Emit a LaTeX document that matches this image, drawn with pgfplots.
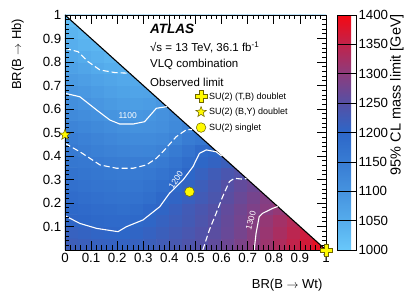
\documentclass[border=0pt]{standalone}
\usepackage{pgfplots}
\pgfplotsset{compat=1.18}
\usepackage{fontspec}
\setmainfont{Liberation Sans}
\pgfdeclareplotmark{fstar}{%
 \pgfpathmoveto{\pgfpointpolar{90}{\pgfplotmarksize}}%
 \pgfpathlineto{\pgfpointpolar{126}{0.42\pgfplotmarksize}}%
 \pgfpathlineto{\pgfpointpolar{162}{\pgfplotmarksize}}%
 \pgfpathlineto{\pgfpointpolar{198}{0.42\pgfplotmarksize}}%
 \pgfpathlineto{\pgfpointpolar{234}{\pgfplotmarksize}}%
 \pgfpathlineto{\pgfpointpolar{270}{0.42\pgfplotmarksize}}%
 \pgfpathlineto{\pgfpointpolar{306}{\pgfplotmarksize}}%
 \pgfpathlineto{\pgfpointpolar{342}{0.42\pgfplotmarksize}}%
 \pgfpathlineto{\pgfpointpolar{18}{\pgfplotmarksize}}%
 \pgfpathlineto{\pgfpointpolar{54}{0.42\pgfplotmarksize}}%
 \pgfpathclose\pgfusepathqfillstroke}
\pgfdeclareplotmark{fcross}{%
 \pgfpathmoveto{\pgfpoint{0.3\pgfplotmarksize}{\pgfplotmarksize}}%
 \pgfpathlineto{\pgfpoint{0.3\pgfplotmarksize}{0.3\pgfplotmarksize}}%
 \pgfpathlineto{\pgfpoint{\pgfplotmarksize}{0.3\pgfplotmarksize}}%
 \pgfpathlineto{\pgfpoint{\pgfplotmarksize}{-0.3\pgfplotmarksize}}%
 \pgfpathlineto{\pgfpoint{0.3\pgfplotmarksize}{-0.3\pgfplotmarksize}}%
 \pgfpathlineto{\pgfpoint{0.3\pgfplotmarksize}{-\pgfplotmarksize}}%
 \pgfpathlineto{\pgfpoint{-0.3\pgfplotmarksize}{-\pgfplotmarksize}}%
 \pgfpathlineto{\pgfpoint{-0.3\pgfplotmarksize}{-0.3\pgfplotmarksize}}%
 \pgfpathlineto{\pgfpoint{-\pgfplotmarksize}{-0.3\pgfplotmarksize}}%
 \pgfpathlineto{\pgfpoint{-\pgfplotmarksize}{0.3\pgfplotmarksize}}%
 \pgfpathlineto{\pgfpoint{-0.3\pgfplotmarksize}{0.3\pgfplotmarksize}}%
 \pgfpathlineto{\pgfpoint{-0.3\pgfplotmarksize}{\pgfplotmarksize}}%
 \pgfpathclose\pgfusepathqfillstroke}
\pgfplotstableread{
x y c
0.025 0.025 1220
0.075 0.025 1217
0.125 0.025 1213
0.175 0.025 1210
0.225 0.025 1209
0.275 0.025 1212
0.325 0.025 1218
0.375 0.025 1225
0.425 0.025 1233
0.475 0.025 1241
0.525 0.025 1249
0.575 0.025 1260
0.625 0.025 1272
0.675 0.025 1286
0.725 0.025 1299
0.775 0.025 1315
0.825 0.025 1332
0.875 0.025 1350
0.925 0.025 1367
0.975 0.025 1385
0.025 0.075 1212
0.075 0.075 1209
0.125 0.075 1205
0.175 0.075 1202
0.225 0.075 1200
0.275 0.075 1204
0.325 0.075 1210
0.375 0.075 1218
0.425 0.075 1227
0.475 0.075 1235
0.525 0.075 1245
0.575 0.075 1255
0.625 0.075 1267
0.675 0.075 1280
0.725 0.075 1296
0.775 0.075 1312
0.825 0.075 1328
0.875 0.075 1345
0.925 0.075 1362
0.975 0.075 1378
0.025 0.125 1203
0.075 0.125 1199
0.125 0.125 1196
0.175 0.125 1193
0.225 0.125 1192
0.275 0.125 1196
0.325 0.125 1203
0.375 0.125 1211
0.425 0.125 1220
0.475 0.125 1228
0.525 0.125 1240
0.575 0.125 1252
0.625 0.125 1265
0.675 0.125 1278
0.725 0.125 1294
0.775 0.125 1308
0.825 0.125 1322
0.875 0.125 1337
0.925 0.125 1350
0.975 0.125 1360
0.025 0.175 1195
0.075 0.175 1192
0.125 0.175 1188
0.175 0.175 1185
0.225 0.175 1182
0.275 0.175 1185
0.325 0.175 1197
0.375 0.175 1204
0.425 0.175 1215
0.475 0.175 1226
0.525 0.175 1236
0.575 0.175 1248
0.625 0.175 1262
0.675 0.175 1275
0.725 0.175 1287
0.775 0.175 1297
0.825 0.175 1308
0.875 0.175 1320
0.925 0.175 1330
0.975 0.175 1340
0.025 0.225 1187
0.075 0.225 1184
0.125 0.225 1179
0.175 0.225 1175
0.225 0.225 1172
0.275 0.225 1174
0.325 0.225 1182
0.375 0.225 1195
0.425 0.225 1205
0.475 0.225 1215
0.525 0.225 1226
0.575 0.225 1238
0.625 0.225 1255
0.675 0.225 1268
0.725 0.225 1280
0.775 0.225 1292
0.825 0.225 1300
0.875 0.225 1310
0.925 0.225 1320
0.975 0.225 1330
0.025 0.275 1179
0.075 0.275 1175
0.125 0.275 1170
0.175 0.275 1166
0.225 0.275 1163
0.275 0.275 1165
0.325 0.275 1171
0.375 0.275 1182
0.425 0.275 1195
0.475 0.275 1208
0.525 0.275 1220
0.575 0.275 1233
0.625 0.275 1250
0.675 0.275 1262
0.725 0.275 1272
0.775 0.275 1280
0.825 0.275 1290
0.875 0.275 1300
0.925 0.275 1310
0.975 0.275 1320
0.025 0.325 1171
0.075 0.325 1167
0.125 0.325 1162
0.175 0.325 1158
0.225 0.325 1154
0.275 0.325 1155
0.325 0.325 1159
0.375 0.325 1168
0.425 0.325 1182
0.475 0.325 1200
0.525 0.325 1212
0.575 0.325 1224
0.625 0.325 1236
0.675 0.325 1246
0.725 0.325 1255
0.775 0.325 1265
0.825 0.325 1275
0.875 0.325 1285
0.925 0.325 1295
0.975 0.325 1305
0.025 0.375 1163
0.075 0.375 1160
0.125 0.375 1156
0.175 0.375 1151
0.225 0.375 1148
0.275 0.375 1147
0.325 0.375 1148
0.375 0.375 1156
0.425 0.375 1170
0.475 0.375 1185
0.525 0.375 1201
0.575 0.375 1208
0.625 0.375 1218
0.675 0.375 1228
0.725 0.375 1238
0.775 0.375 1248
0.825 0.375 1258
0.875 0.375 1268
0.925 0.375 1278
0.975 0.375 1288
0.025 0.425 1154
0.075 0.425 1148
0.125 0.425 1142
0.175 0.425 1137
0.225 0.425 1132
0.275 0.425 1130
0.325 0.425 1131
0.375 0.425 1137
0.425 0.425 1153
0.475 0.425 1170
0.525 0.425 1190
0.575 0.425 1198
0.625 0.425 1205
0.675 0.425 1215
0.725 0.425 1225
0.775 0.425 1235
0.825 0.425 1245
0.875 0.425 1255
0.925 0.425 1265
0.975 0.425 1275
0.025 0.475 1145
0.075 0.475 1139
0.125 0.475 1132
0.175 0.475 1126
0.225 0.475 1120
0.275 0.475 1117
0.325 0.475 1117
0.375 0.475 1121
0.425 0.475 1132
0.475 0.475 1150
0.525 0.475 1160
0.575 0.475 1170
0.625 0.475 1180
0.675 0.475 1190
0.725 0.475 1200
0.775 0.475 1210
0.825 0.475 1220
0.875 0.475 1230
0.925 0.475 1240
0.975 0.475 1250
0.025 0.525 1133
0.075 0.525 1127
0.125 0.525 1120
0.175 0.525 1113
0.225 0.525 1107
0.275 0.525 1103
0.325 0.525 1104
0.375 0.525 1108
0.425 0.525 1120
0.475 0.525 1135
0.525 0.525 1145
0.575 0.525 1155
0.625 0.525 1165
0.675 0.525 1175
0.725 0.525 1185
0.775 0.525 1195
0.825 0.525 1205
0.875 0.525 1215
0.925 0.525 1225
0.975 0.525 1235
0.025 0.575 1120
0.075 0.575 1114
0.125 0.575 1106
0.175 0.575 1099
0.225 0.575 1094
0.275 0.575 1092
0.325 0.575 1096
0.375 0.575 1104
0.425 0.575 1115
0.475 0.575 1125
0.525 0.575 1135
0.575 0.575 1145
0.625 0.575 1155
0.675 0.575 1165
0.725 0.575 1175
0.775 0.575 1185
0.825 0.575 1195
0.875 0.575 1205
0.925 0.575 1215
0.975 0.575 1225
0.025 0.625 1109
0.075 0.625 1102
0.125 0.625 1094
0.175 0.625 1087
0.225 0.625 1081
0.275 0.625 1079
0.325 0.625 1082
0.375 0.625 1092
0.425 0.625 1100
0.475 0.625 1110
0.525 0.625 1120
0.575 0.625 1130
0.625 0.625 1140
0.675 0.625 1150
0.725 0.625 1160
0.775 0.625 1170
0.825 0.625 1180
0.875 0.625 1190
0.925 0.625 1200
0.975 0.625 1210
0.025 0.675 1097
0.075 0.675 1090
0.125 0.675 1082
0.175 0.675 1075
0.225 0.675 1069
0.275 0.675 1066
0.325 0.675 1068
0.375 0.675 1075
0.425 0.675 1085
0.475 0.675 1095
0.525 0.675 1105
0.575 0.675 1115
0.625 0.675 1125
0.675 0.675 1135
0.725 0.675 1145
0.775 0.675 1155
0.825 0.675 1165
0.875 0.675 1175
0.925 0.675 1185
0.975 0.675 1195
0.025 0.725 1085
0.075 0.725 1078
0.125 0.725 1070
0.175 0.725 1064
0.225 0.725 1058
0.275 0.725 1056
0.325 0.725 1060
0.375 0.725 1065
0.425 0.725 1070
0.475 0.725 1075
0.525 0.725 1080
0.575 0.725 1085
0.625 0.725 1090
0.675 0.725 1095
0.725 0.725 1100
0.775 0.725 1105
0.825 0.725 1110
0.875 0.725 1115
0.925 0.725 1120
0.975 0.725 1125
0.025 0.775 1072
0.075 0.775 1064
0.125 0.775 1055
0.175 0.775 1047
0.225 0.775 1044
0.275 0.775 1044
0.325 0.775 1044
0.375 0.775 1044
0.425 0.775 1044
0.475 0.775 1044
0.525 0.775 1044
0.575 0.775 1044
0.625 0.775 1044
0.675 0.775 1044
0.725 0.775 1044
0.775 0.775 1044
0.825 0.775 1044
0.875 0.775 1044
0.925 0.775 1044
0.975 0.775 1044
0.025 0.825 1059
0.075 0.825 1050
0.125 0.825 1042
0.175 0.825 1036
0.225 0.825 1036
0.275 0.825 1036
0.325 0.825 1036
0.375 0.825 1036
0.425 0.825 1036
0.475 0.825 1036
0.525 0.825 1036
0.575 0.825 1036
0.625 0.825 1036
0.675 0.825 1036
0.725 0.825 1036
0.775 0.825 1036
0.825 0.825 1036
0.875 0.825 1036
0.925 0.825 1036
0.975 0.825 1036
0.025 0.875 1046
0.075 0.875 1038
0.125 0.875 1032
0.175 0.875 1032
0.225 0.875 1032
0.275 0.875 1032
0.325 0.875 1032
0.375 0.875 1032
0.425 0.875 1032
0.475 0.875 1032
0.525 0.875 1032
0.575 0.875 1032
0.625 0.875 1032
0.675 0.875 1032
0.725 0.875 1032
0.775 0.875 1032
0.825 0.875 1032
0.875 0.875 1032
0.925 0.875 1032
0.975 0.875 1032
0.025 0.925 1035
0.075 0.925 1028
0.125 0.925 1028
0.175 0.925 1028
0.225 0.925 1028
0.275 0.925 1028
0.325 0.925 1028
0.375 0.925 1028
0.425 0.925 1028
0.475 0.925 1028
0.525 0.925 1028
0.575 0.925 1028
0.625 0.925 1028
0.675 0.925 1028
0.725 0.925 1028
0.775 0.925 1028
0.825 0.925 1028
0.875 0.925 1028
0.925 0.925 1028
0.975 0.925 1028
0.025 0.975 1022
0.075 0.975 1022
0.125 0.975 1022
0.175 0.975 1022
0.225 0.975 1022
0.275 0.975 1022
0.325 0.975 1022
0.375 0.975 1022
0.425 0.975 1022
0.475 0.975 1022
0.525 0.975 1022
0.575 0.975 1022
0.625 0.975 1022
0.675 0.975 1022
0.725 0.975 1022
0.775 0.975 1022
0.825 0.975 1022
0.875 0.975 1022
0.925 0.975 1022
0.975 0.975 1022
}\limitdata
\definecolor{mkyellow}{RGB}{255,250,0}
\definecolor{mkedge}{RGB}{110,100,0}
\begin{document}
\begin{tikzpicture}
\begin{axis}[
  at={(0,0)}, anchor=south west,
  scale only axis, width=261bp, height=235bp,
  xmin=0, xmax=1, ymin=0, ymax=1,
  axis on top,
  line width=0.7bp,
  colormap={atlas}{rgb255=(105,200,250) rgb255=(85,172,236) rgb255=(70,147,223) rgb255=(56,124,211) rgb255=(45,103,200) rgb255=(85,80,165) rgb255=(140,60,125) rgb255=(193,35,75) rgb255=(245,8,18)},
  point meta min=1000, point meta max=1400,
  /pgf/number format/assume math mode=true,
  /pgf/number format/1000 sep={},
  xtick={0,0.1,0.2,0.3,0.4,0.5,0.6,0.7,0.8,0.9,1},
  xticklabels={0,0.1,0.2,0.3,0.4,0.5,0.6,0.7,0.8,0.9,1},
  ytick={0,0.1,0.2,0.3,0.4,0.5,0.6,0.7,0.8,0.9,1},
  yticklabels={{},0.1,0.2,0.3,0.4,0.5,0.6,0.7,0.8,0.9,1},
  minor tick num=4,
  tick align=inside,
  major tick length=9bp, minor tick length=4.5bp,
  every tick/.style={black, line width=0.7bp},
  ticklabel style={font=\fontsize{13.3bp}{15bp}\selectfont},
  xlabel={BR(B $\rightarrow$ Wt)},
  ylabel={BR(B $\rightarrow$ Hb)},
  label style={font=\fontsize{13bp}{15bp}\selectfont},
  xlabel style={at={(ticklabel cs:1,9bp)}, anchor=north east},
  ylabel style={at={(ticklabel cs:1,12bp)}, anchor=south east},
  colorbar,
  colorbar style={
    at={(parent axis.north east)}, anchor=north west, xshift=2.5bp,
    scale only axis, width=19bp, height=235bp,
    ytick={1000,1050,1100,1150,1200,1250,1300,1350,1400},
    minor tick num=0,
    yticklabel pos=right,
    tick align=inside,
    major tick length=10bp,
    /pgf/number format/assume math mode=true,
    /pgf/number format/1000 sep={},
    yticklabel style={font=\fontsize{13.3bp}{15bp}\selectfont, xshift=-1bp},
  },
  legend style={at={(rel axis cs:0.497,0.68)}, anchor=north west, draw=none, fill=none,
    font=\fontsize{9bp}{10bp}\selectfont, row sep=3.5bp, inner sep=0pt},
  legend cell align=left,
]
\addplot[matrix plot*, mesh/cols=20, point meta=explicit, forget plot]
  table[x=x, y=y, meta=c] {\limitdata};
\addplot[fill=white, draw=none, forget plot] coordinates {(0,1) (1,0) (1,1)} -- cycle;
\addplot[black, line width=1.1bp, forget plot] coordinates {(0,1) (1,0)};
% contours
\addplot[white, line width=1.1bp, dash pattern=on 6bp off 3bp, forget plot] coordinates {
(0,0.858) (0.05,0.844) (0.089,0.801) (0.134,0.766) (0.191,0.755) (0.248,0.752)};
\addplot[white, line width=1.1bp, forget plot] coordinates {
(0,0.667) (0.057,0.652) (0.121,0.596) (0.172,0.553) (0.21,0.536) (0.261,0.536) (0.305,0.546) (0.35,0.603) (0.39,0.61)};
\addplot[white, line width=1.1bp, dash pattern=on 6bp off 3bp, forget plot] coordinates {
(0,0.454) (0.057,0.418) (0.134,0.362) (0.197,0.348) (0.261,0.348) (0.312,0.362) (0.35,0.39) (0.375,0.418) (0.426,0.482) (0.464,0.511) (0.487,0.513)};
\addplot[white, line width=1.1bp, forget plot] coordinates {
(0,0.146) (0.057,0.113) (0.121,0.092) (0.203,0.078) (0.235,0.099) (0.299,0.128) (0.363,0.184) (0.40,0.241) (0.452,0.298) (0.49,0.354) (0.515,0.411) (0.541,0.426) (0.579,0.418) (0.6,0.4)};
\addplot[white, line width=1.1bp, dash pattern=on 6bp off 3bp, forget plot] coordinates {
(0.528,0) (0.553,0.085) (0.579,0.156) (0.604,0.227) (0.63,0.291) (0.649,0.305) (0.687,0.301) (0.695,0.305)};
\addplot[white, line width=1.1bp, forget plot] coordinates {
(0.725,0) (0.732,0.071) (0.744,0.142) (0.757,0.156) (0.795,0.177) (0.815,0.185)};
\node[white, font=\fontsize{8.5bp}{9bp}\selectfont] at (axis cs:0.24,0.574) {1100};
\node[white, font=\fontsize{8.5bp}{9bp}\selectfont, rotate=57] at (axis cs:0.425,0.30) {1200};
\node[white, font=\fontsize{8.5bp}{9bp}\selectfont, rotate=75] at (axis cs:0.712,0.125) {1300};
% benchmark points
\addplot[only marks, mark=fcross, mark size=6bp, fill=mkyellow, draw=mkedge, line width=0.5bp] coordinates {(1,0)};
\addlegendentry{SU(2) (T,B) doublet}
\addplot[only marks, mark=fstar, mark size=5.5bp, fill=mkyellow, draw=mkedge, line width=0.5bp] coordinates {(0,0.49)};
\addlegendentry{SU(2) (B,Y) doublet}
\addplot[only marks, mark=*, mark size=4.8bp, fill=mkyellow, draw=mkedge, line width=0.5bp] coordinates {(0.477,0.248)};
\addlegendentry{SU(2) singlet}
\node[anchor=west, font=\fontsize{13.5bp}{14bp}\selectfont\bfseries\itshape, inner sep=0pt] at (rel axis cs:0.325,0.94) {ATLAS};
\node[anchor=west, font=\fontsize{11.5bp}{13bp}\selectfont, inner sep=0pt] at (rel axis cs:0.325,0.863) {√s = 13 TeV, 36.1 fb\textsuperscript{-1}};
\node[anchor=west, font=\fontsize{11.5bp}{13bp}\selectfont, inner sep=0pt] at (rel axis cs:0.325,0.788) {VLQ combination};
\node[anchor=west, font=\fontsize{11.5bp}{13bp}\selectfont, inner sep=0pt] at (rel axis cs:0.325,0.715) {Observed limit};
\end{axis}
\node[rotate=90, anchor=north east, inner sep=0pt, font=\fontsize{14.5bp}{16bp}\selectfont] at (325bp,236bp) {95\% CL mass limit [GeV]};
\pgfresetboundingbox
\path[use as bounding box] (-65bp,-49bp) rectangle (343bp,250bp);
\end{tikzpicture}
\end{document}
